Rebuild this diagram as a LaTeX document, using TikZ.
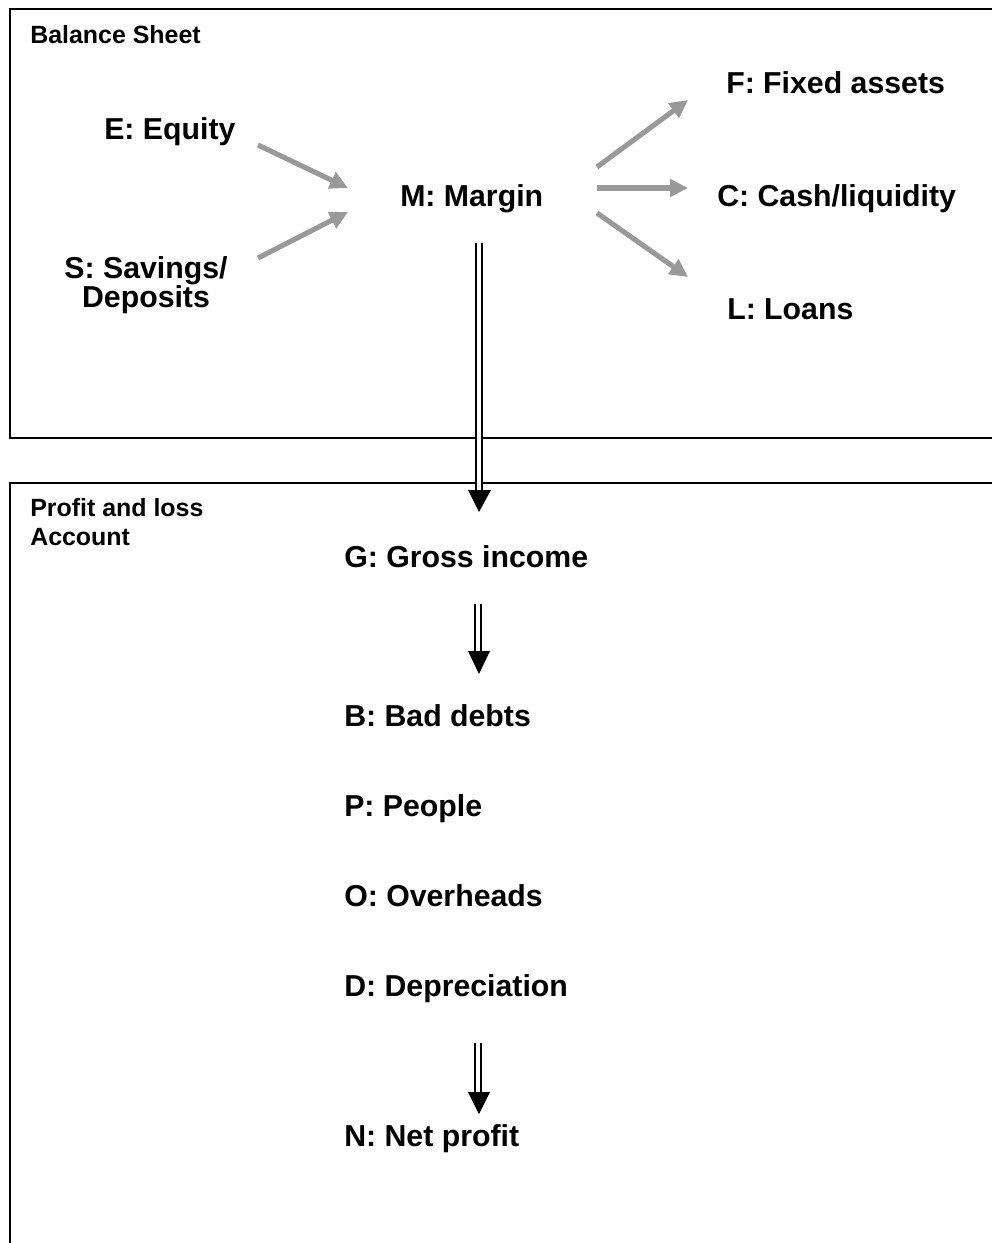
\documentclass[tikz,border=0pt]{standalone}
\usepackage{fontspec}
\setmainfont{Liberation Sans}
\usetikzlibrary{arrows.meta}
\tikzset{
  lbl/.style={font=\fontsize{22.7}{21.75}\selectfont\bfseries, inner sep=0pt, anchor=base west},
  small/.style={font=\fontsize{18.7}{21.75}\selectfont\bfseries, inner sep=0pt, anchor=base west, align=left},
  frame/.style={draw=black, line width=1.5pt},
  garrow/.style={draw=black!40, line width=3.8pt, -{Triangle[length=13.5pt,width=13pt]}},
  shaft/.style={draw=black, double=white, line width=1.6pt, double distance=2.6pt},
  head/.style={fill=black}
}
\begin{document}
\begin{tikzpicture}[x=0.75pt,y=-0.75pt]
\useasboundingbox (0,0) rectangle (992,1243);
% frames
\draw[frame] (1010,9) -- (10,9) -- (10,438) -- (1010,438);
\draw[frame] (1010,483) -- (10,483) -- (10,1260);
% titles
\node[small] (bs) at (30,43) {Balance Sheet};
\node[small] (pl) at (30,545) {Profit and loss\\Account};
% balance sheet labels
\node[lbl] (E) at (104,139) {E: Equity};
\node[lbl, anchor=base, align=center] (S) at (146,307) {S: Savings/\\Deposits};
\node[lbl] (M) at (400,206) {M: Margin};
\node[lbl] (F) at (726,93) {F: Fixed assets};
\node[lbl] (C) at (717,206) {C: Cash/liquidity};
\node[lbl] (L) at (727,319) {L: Loans};
% P&L labels
\node[lbl] (G) at (344,567) {G: Gross income};
\node[lbl] (B) at (344,726) {B: Bad debts};
\node[lbl] (P) at (344,816) {P: People};
\node[lbl] (O) at (344,906) {O: Overheads};
\node[lbl] (D) at (344,996) {D: Depreciation};
\node[lbl] (N) at (344,1146) {N: Net profit};
% gray arrow endpoints
\coordinate (eS) at (258,145); \coordinate (eT) at (348,188);
\coordinate (sS) at (258,258); \coordinate (sT) at (348,212);
\coordinate (fS) at (597,167); \coordinate (fT) at (688,100);
\coordinate (cS) at (597,188); \coordinate (cT) at (688,188);
\coordinate (lS) at (597,213); \coordinate (lT) at (688,277);
\draw[garrow] (eS) -- (eT);
\draw[garrow] (sS) -- (sT);
\draw[garrow] (fS) -- (fT);
\draw[garrow] (cS) -- (cT);
\draw[garrow] (lS) -- (lT);
% double arrows
\coordinate (m1) at (479,243); \coordinate (m2) at (479,491); \coordinate (m3) at (479,512);
\draw[shaft] (m1) -- (m2);
\fill[head] (468,490) -- (491,490) -- (m3) -- cycle;
\coordinate (g1) at (478,604); \coordinate (g2) at (478,652); \coordinate (g3) at (479,674);
\draw[shaft] (g1) -- (g2);
\fill[head] (468,651) -- (490,651) -- (g3) -- cycle;
\coordinate (d1) at (478,1043); \coordinate (d2) at (478,1093); \coordinate (d3) at (479,1114);
\draw[shaft] (d1) -- (d2);
\fill[head] (468,1092) -- (490,1092) -- (d3) -- cycle;
\end{tikzpicture}
\end{document}
